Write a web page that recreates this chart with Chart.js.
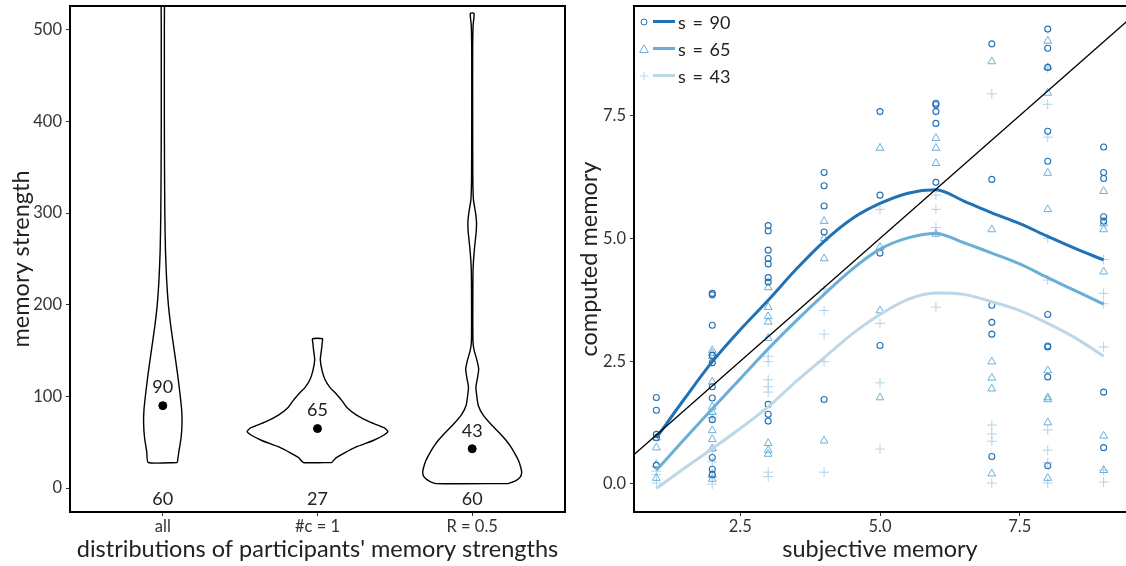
<!DOCTYPE html>
<html>
<head>
<meta charset="utf-8">
<script src="https://cdn.jsdelivr.net/npm/chart.js@4.4.1/dist/chart.umd.min.js"></script>
<style>
  html, body { margin: 0; padding: 0; background: #fff; }
  #wrap { position: relative; width: 1126px; height: 566px; overflow: hidden; font-family: Lato, sans-serif; }
  #leftChart { position: absolute; left: 0; top: 0; }
  #rightChart { position: absolute; left: 570px; top: 0; }
  .legend { position: absolute; left: 638px; top: 8px; font-size: 18px; color: #222; word-spacing: 2px; }
  .legend .row { display: flex; align-items: center; height: 27px; }
  .legend .swatch { width: 22px; height: 3px; margin: 0 3px 0 3px; }
</style>
</head>
<body>
<div id="wrap">
  <canvas id="leftChart" width="570" height="566"></canvas>
  <canvas id="rightChart" width="562" height="566"></canvas>
  <div class="legend">
    <div class="row">
      <svg width="12" height="12"><circle cx="6" cy="6" r="3" fill="none" stroke="#2171b5" stroke-width="1"/></svg>
      <span class="swatch" style="background:#2171b5"></span><span>s = 90</span>
    </div>
    <div class="row">
      <svg width="12" height="12"><polygon points="6,1.8 10.3,9.5 1.7,9.5" fill="none" stroke="#6baed6" stroke-width="1"/></svg>
      <span class="swatch" style="background:#6baed6"></span><span>s = 65</span>
    </div>
    <div class="row">
      <svg width="12" height="12"><path d="M6 1.5V10.5M1.5 6H10.5" stroke="#bdd7e7" stroke-width="1"/></svg>
      <span class="swatch" style="background:#bdd7e7"></span><span>s = 43</span>
    </div>
  </div>
</div>
<script>
// ---------- left panel: violins ----------
const groups = ['all', '#c = 1', 'R = 0.5'];
const groupPos = [1, 2, 3];
const medians = [90, 65, 43];
const counts = [60, 27, 60];
const strengthTicks = [0, 100, 200, 300, 400, 500];

// violin outlines: levels (memory strength) and half widths (in group units)
const allLevels = [28, 40, 55, 70, 85, 100, 125, 150, 175, 200, 230, 260, 300, 350, 400, 450, 500, 560];
const allHalf   = [0.094, 0.104, 0.118, 0.124, 0.122, 0.113, 0.095, 0.074, 0.053, 0.036, 0.024, 0.017, 0.013, 0.011, 0.010, 0.010, 0.010, 0.009];

const oneLevels = [28, 33, 38, 45, 52, 58, 62, 66, 72, 80, 88, 95, 103, 110, 118, 128, 140, 150, 158, 163];
const oneHalf   = [0.092, 0.12, 0.17, 0.25, 0.36, 0.43, 0.455, 0.43, 0.34, 0.25, 0.19, 0.16, 0.12, 0.08, 0.05, 0.03, 0.018, 0.025, 0.03, 0.032];

const rLevels = [5, 8, 12, 17, 22, 30, 38, 45, 52, 60, 70, 80, 90, 100, 110, 120, 130, 140, 150, 160, 200, 240, 260, 280, 290, 300, 315, 340, 400, 480, 505, 518];
const rHalf   = [0.233, 0.28, 0.31, 0.32, 0.315, 0.30, 0.275, 0.25, 0.22, 0.178, 0.12, 0.07, 0.04, 0.03, 0.024, 0.034, 0.042, 0.03, 0.013, 0.005, 0.004, 0.006, 0.014, 0.026, 0.028, 0.022, 0.008, 0.004, 0.003, 0.003, 0.006, 0.012];

// ---------- right panel: scatter + smooth ----------
const subjective = [1, 2, 3, 4, 5, 6, 7, 8, 9];
const s90Points = [
  [1.76, 1.50, 1.01, 0.94, 0.38],
  [3.88, 3.85, 3.23, 2.62, 2.47, 1.98, 1.75, 1.31, 0.54, 0.30, 0.19],
  [5.26, 5.15, 4.76, 4.59, 4.48, 4.20, 4.11, 1.62, 1.42, 1.28],
  [6.34, 6.07, 5.66, 5.13, 1.72],
  [7.58, 5.88, 4.70, 2.82],
  [7.75, 7.72, 7.58, 7.34, 6.14],
  [8.96, 6.20, 3.64, 3.29, 3.05, 0.56],
  [9.26, 8.87, 8.48, 7.18, 6.57, 3.45, 2.81, 2.79, 2.18, 0.37],
  [6.86, 6.34, 6.22, 5.44, 5.35, 1.87, 0.74]
];
const s65Points = [
  [0.94, 0.74, 0.40, 0.12],
  [2.72, 2.66, 2.60, 2.08, 1.57, 1.46, 1.09, 0.91, 0.72, 0.20, 0.10],
  [4.00, 3.60, 3.41, 3.30, 2.97, 0.83, 0.69, 0.61],
  [5.35, 5.00, 4.59, 0.88],
  [6.84, 4.82, 3.53, 1.76],
  [7.04, 6.84, 6.53, 5.09],
  [8.60, 5.18, 2.49, 2.16, 1.94, 0.21],
  [9.02, 8.48, 7.96, 6.33, 5.59, 2.31, 1.76, 1.72, 1.25, 0.12],
  [5.96, 5.30, 5.18, 4.32, 0.98, 0.28]
];
const s43Points = [
  [0.26, 0.19, 0.02],
  [1.42, 1.35, 0.69, 0.45, 0.13, 0.00],
  [2.60, 2.49, 2.12, 1.98, 1.87, 0.24, 0.15],
  [3.97, 3.53, 3.05, 2.49, 0.24],
  [5.59, 3.27, 2.06, 0.71],
  [5.88, 5.59, 5.22, 5.11, 3.60],
  [7.94, 1.20, 1.02, 0.87, 0.02],
  [8.47, 7.73, 7.06, 5.00, 4.15, 1.10, 0.69, 0.43, 0.02],
  [4.57, 3.88, 3.67, 2.79, 0.28, 0.04]
];
const smoothX   = [1, 1.5, 2, 2.5, 3, 3.5, 4, 4.5, 5, 5.5, 6, 6.5, 7, 7.5, 8, 8.5, 9];
const s90Smooth = [0.94, 1.73, 2.49, 3.14, 3.74, 4.37, 4.94, 5.40, 5.71, 5.92, 5.99, 5.76, 5.52, 5.30, 5.04, 4.79, 4.56];
const s65Smooth = [0.28, 0.91, 1.53, 2.14, 2.75, 3.32, 3.86, 4.37, 4.78, 5.01, 5.10, 4.91, 4.70, 4.48, 4.20, 3.93, 3.66];
const s43Smooth = [-0.09, 0.32, 0.72, 1.13, 1.57, 2.09, 2.57, 3.05, 3.45, 3.76, 3.89, 3.86, 3.71, 3.53, 3.27, 2.97, 2.60];
const identity  = [0, 10];
const subjTicks = [2.5, 5, 7.5];
const compTicks = [0, 2.5, 5, 7.5];

const FONT = 'Lato, sans-serif';
const TEXT = '#222';

// ---------- helpers ----------
function violinOutline(center, levels, half) {
  const right = levels.map((v, i) => ({ x: center + half[i], y: v }));
  const left = levels.map((v, i) => ({ x: center - half[i], y: v })).reverse();
  return right.concat(left, [right[0]]);
}

function pointsFor(series) {
  const out = [];
  series.forEach((vals, i) => vals.forEach(v => out.push({ x: subjective[i], y: v })));
  return out;
}

const panelBorder = {
  id: 'panelBorder',
  afterDraw(chart, args, opts) {
    const { ctx, chartArea: a } = chart;
    ctx.save();
    ctx.strokeStyle = '#000';
    ctx.lineWidth = 2;
    ctx.beginPath();
    if (opts.right === false) {
      ctx.moveTo(a.right + 5, a.top);
      ctx.lineTo(a.left, a.top);
      ctx.lineTo(a.left, a.bottom);
      ctx.lineTo(a.right + 5, a.bottom);
    } else {
      ctx.rect(a.left, a.top, a.right - a.left, a.bottom - a.top);
    }
    ctx.stroke();
    ctx.restore();
  }
};

const violinText = {
  id: 'violinText',
  afterDatasetsDraw(chart) {
    const { ctx, scales: { x, y } } = chart;
    ctx.save();
    ctx.font = '18px ' + FONT;
    ctx.fillStyle = TEXT;
    ctx.textAlign = 'center';
    ctx.textBaseline = 'middle';
    groupPos.forEach((p, i) => {
      ctx.fillText(String(medians[i]), x.getPixelForValue(p), y.getPixelForValue(medians[i]) - 18);
      ctx.fillText(String(counts[i]), x.getPixelForValue(p), y.getPixelForValue(-12));
    });
    ctx.restore();
  }
};

function axis(opts) {
  return {
    type: 'linear',
    min: opts.min,
    max: opts.max,
    afterBuildTicks: s => { s.ticks = opts.ticks.map(v => ({ value: v })); },
    afterFit: s => {
      if (opts.width) s.width = opts.width;
      if (opts.height) s.height = opts.height;
      s.paddingTop = 0; s.paddingBottom = 0; s.paddingLeft = 0; s.paddingRight = 0;
    },
    grid: { drawOnChartArea: false, drawTicks: true, tickLength: 4, color: '#333', lineWidth: 1 },
    border: { display: false },
    ticks: { font: { family: FONT, size: 16.5 }, color: '#333', padding: opts.pad, callback: opts.label },
    title: { display: true, text: opts.title, font: { family: FONT, size: 23.5 }, color: TEXT, padding: opts.titlePad }
  };
}

// ---------- left chart ----------
const violinSets = [[allLevels, allHalf], [oneLevels, oneHalf], [rLevels, rHalf]].map((d, i) => ({
  data: violinOutline(groupPos[i], d[0], d[1]),
  showLine: true,
  borderColor: '#000',
  borderWidth: 1.4,
  pointRadius: 0,
  tension: 0.2,
  fill: false
}));

new Chart(document.getElementById('leftChart'), {
  type: 'scatter',
  data: {
    datasets: [{
      data: groupPos.map((p, i) => ({ x: p, y: medians[i] })),
      pointRadius: 4,
      backgroundColor: '#000',
      borderColor: '#000'
    }].concat(violinSets)
  },
  options: {
    responsive: false,
    animation: false,
    layout: { padding: { top: 6, right: 5, left: 0, bottom: 0 } },
    plugins: { legend: { display: false }, tooltip: { enabled: false }, panelBorder: {} },
    scales: {
      x: axis({ min: 0.4, max: 3.6, ticks: groupPos, height: 54, pad: 1,
        label: v => groups[groupPos.indexOf(v)], title: 'distributions of participants\' memory strengths',
        titlePad: { top: 0, bottom: 2 } }),
      y: axis({ min: -26, max: 526, ticks: strengthTicks, width: 70, pad: 4,
        label: v => String(v), title: 'memory strength', titlePad: { top: 7, bottom: 0 } })
    }
  },
  plugins: [panelBorder, violinText]
});

// ---------- right chart ----------
new Chart(document.getElementById('rightChart'), {
  type: 'scatter',
  data: {
    datasets: [
      { data: identity.map(v => ({ x: v, y: v })), showLine: true, borderColor: '#000', borderWidth: 1.3, pointRadius: 0 },
      { data: smoothX.map((x, i) => ({ x, y: s90Smooth[i] })), showLine: true, borderColor: '#2171b5', borderWidth: 3, pointRadius: 0, cubicInterpolationMode: 'monotone' },
      { data: smoothX.map((x, i) => ({ x, y: s65Smooth[i] })), showLine: true, borderColor: '#6baed6', borderWidth: 3, pointRadius: 0, cubicInterpolationMode: 'monotone' },
      { data: smoothX.map((x, i) => ({ x, y: s43Smooth[i] })), showLine: true, borderColor: '#bdd7e7', borderWidth: 3, pointRadius: 0, cubicInterpolationMode: 'monotone' },
      { data: pointsFor(s90Points), pointStyle: 'circle', pointRadius: 3, borderWidth: 1.1, borderColor: '#2171b5', backgroundColor: 'rgba(0,0,0,0)' },
      { data: pointsFor(s65Points), pointStyle: 'triangle', pointRadius: 4.5, borderWidth: 1, borderColor: '#6baed6', backgroundColor: 'rgba(0,0,0,0)' },
      { data: pointsFor(s43Points), pointStyle: 'cross', pointRadius: 5, borderWidth: 1, borderColor: '#b3d3e8', backgroundColor: 'rgba(0,0,0,0)' }
    ]
  },
  options: {
    responsive: false,
    animation: false,
    layout: { padding: { top: 6, right: 3, left: 0, bottom: 0 } },
    plugins: { legend: { display: false }, tooltip: { enabled: false }, panelBorder: { right: false } },
    scales: {
      x: axis({ min: 0.6, max: 9.4, ticks: subjTicks, height: 54, pad: 1,
        label: v => v.toFixed(1), title: 'subjective memory', titlePad: { top: 0, bottom: 2 } }),
      y: axis({ min: -0.57, max: 9.73, ticks: compTicks, width: 64, pad: 4,
        label: v => v.toFixed(1), title: 'computed memory', titlePad: { top: 5, bottom: 0 } })
    }
  },
  plugins: [panelBorder]
});
</script>
</body>
</html>
